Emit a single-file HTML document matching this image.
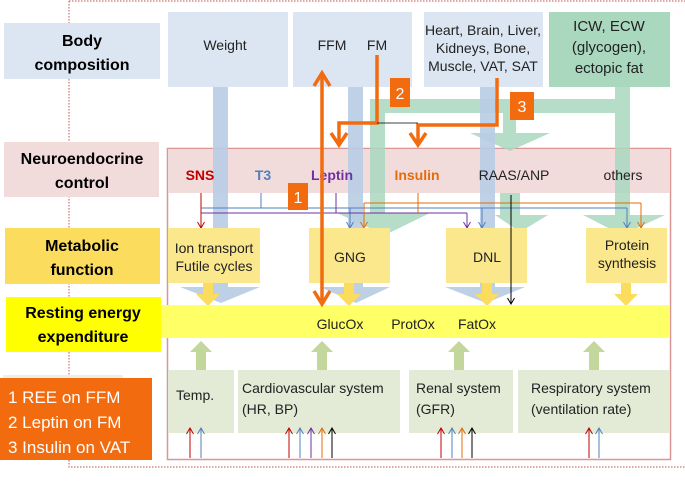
<!DOCTYPE html><html><head><style>body{margin:0;width:685px;height:478px;overflow:hidden;background:#fff}svg text{font-family:"Liberation Sans",sans-serif}</style></head><body>
<svg width="685" height="478" viewBox="0 0 685 478" xmlns="http://www.w3.org/2000/svg">
<defs>
<marker id="ar" markerWidth="8" markerHeight="8" refX="7" refY="4" orient="auto" markerUnits="userSpaceOnUse"><path d="M1,0.5 L7,4 L1,7.5" fill="none" stroke="#c00000" stroke-width="1"/></marker>
<marker id="ab" markerWidth="8" markerHeight="8" refX="7" refY="4" orient="auto" markerUnits="userSpaceOnUse"><path d="M1,0.5 L7,4 L1,7.5" fill="none" stroke="#4f81bd" stroke-width="1"/></marker>
<marker id="ap" markerWidth="8" markerHeight="8" refX="7" refY="4" orient="auto" markerUnits="userSpaceOnUse"><path d="M1,0.5 L7,4 L1,7.5" fill="none" stroke="#7030a0" stroke-width="1"/></marker>
<marker id="ao" markerWidth="8" markerHeight="8" refX="7" refY="4" orient="auto" markerUnits="userSpaceOnUse"><path d="M1,0.5 L7,4 L1,7.5" fill="none" stroke="#e46c0a" stroke-width="1"/></marker>
<marker id="ak" markerWidth="8" markerHeight="8" refX="7" refY="4" orient="auto" markerUnits="userSpaceOnUse"><path d="M1,0.5 L7,4 L1,7.5" fill="none" stroke="#000" stroke-width="1"/></marker>
</defs>
<path d="M69,1 H685 M69,1 V467 H685" fill="none" stroke="#c0504d" stroke-width="1" stroke-dasharray="1.5,1.5"/>
<rect x="4" y="23" width="156" height="56" fill="#dce6f2"/>
<text x="82" y="46" font-size="16" font-weight="bold" text-anchor="middle">Body</text>
<text x="82" y="70" font-size="16" font-weight="bold" text-anchor="middle">composition</text>
<rect x="4" y="142" width="155" height="55" fill="#f2dcdb"/>
<text x="82" y="164" font-size="16" font-weight="bold" text-anchor="middle">Neuroendocrine</text>
<text x="82" y="188" font-size="16" font-weight="bold" text-anchor="middle">control</text>
<rect x="5" y="228" width="155" height="56" fill="#fcdc5c"/>
<text x="82" y="251" font-size="16" font-weight="bold" text-anchor="middle">Metabolic</text>
<text x="82" y="275" font-size="16" font-weight="bold" text-anchor="middle">function</text>
<rect x="3" y="375" width="120" height="57" fill="#ebf1de"/>
<rect x="167.5" y="148.5" width="503" height="311" fill="#fff" stroke="#d99694" stroke-width="1.5"/>
<rect x="168" y="149" width="502" height="44" fill="#f2dcdb"/>
<rect x="168" y="12" width="120" height="75" fill="#dce6f2"/>
<rect x="293" y="12" width="119" height="75" fill="#dce6f2"/>
<rect x="424" y="12" width="119" height="75" fill="#dce6f2"/>
<rect x="549" y="12" width="121" height="75" fill="#a9d8bf"/>
<g fill="#a9d8bf" opacity="0.85">
<rect x="615" y="87" width="15" height="128"/>
<rect x="370" y="99" width="260" height="14"/>
<rect x="370" y="99" width="15" height="116"/>
<rect x="503" y="113" width="13" height="20"/>
<polygon points="470,133 550,133 510,151"/>
<rect x="500" y="193" width="20" height="22"/>
<polygon points="337,213 430,213 385,235"/>
<polygon points="495,215 548,215 520,232"/>
<polygon points="583,215 665,215 622,235"/>
</g>
<g fill="#b8cce4" opacity="0.9">
<rect x="213" y="87" width="15" height="200"/>
<polygon points="180,287 260,287 221,303"/>
<rect x="348" y="87" width="15" height="200"/>
<polygon points="320,287 390,287 356,303"/>
<rect x="480" y="87" width="15" height="200"/>
<polygon points="445,287 525,287 486,303"/>
</g>
<g font-size="14" text-anchor="middle">
<text x="200" y="180" fill="#c00000" font-weight="bold">SNS</text>
<text x="263" y="180" fill="#4f81bd" font-weight="bold">T3</text>
<text x="332" y="180" fill="#7030a0" font-weight="bold">Leptin</text>
<text x="417" y="180" fill="#e46c0a" font-weight="bold">Insulin</text>
<text x="514" y="180" fill="#222">RAAS/ANP</text>
<text x="623" y="180" fill="#222">others</text>
</g>
<g fill="none" stroke-width="1">
<path d="M201,193 V228" stroke="#c00000" marker-end="url(#ar)"/>
<path d="M261,193 V208 M201,208 H627" stroke="#4f81bd"/>
<path d="M350,208 V228" stroke="#4f81bd" marker-end="url(#ab)"/>
<path d="M482,208 V228" stroke="#4f81bd" marker-end="url(#ab)"/>
<path d="M627,208 V228" stroke="#4f81bd" marker-end="url(#ab)"/>
<path d="M336,193 V213 M201,213 H467" stroke="#7030a0"/>
<path d="M467,213 V228" stroke="#7030a0" marker-end="url(#ap)"/>
<path d="M418,193 V213 M364,203 H641" stroke="#e46c0a"/>
<path d="M364,203 V228" stroke="#e46c0a" marker-end="url(#ao)"/>
<path d="M641,203 V228" stroke="#e46c0a" marker-end="url(#ao)"/>
</g>
<g fill="#fce88c">
<rect x="168" y="228" width="92" height="55"/>
<rect x="309" y="228" width="81" height="55"/>
<rect x="446" y="228" width="81" height="55"/>
<rect x="586" y="228" width="81" height="55"/>
</g>
<path d="M511,195 V304" stroke="#000" stroke-width="1" fill="none" marker-end="url(#ak)"/>
<g font-size="14" text-anchor="middle" fill="#222">
<text x="214" y="253">Ion transport</text>
<text x="214" y="271">Futile cycles</text>
<text x="350" y="262">GNG</text>
<text x="487" y="262">DNL</text>
<text x="627" y="250">Protein</text>
<text x="627" y="268">synthesis</text>
</g>
<g fill="#fcdc5c">
<rect x="203" y="283" width="10" height="12"/><polygon points="196,294 220,294 208,306"/>
<rect x="344" y="283" width="10" height="12"/><polygon points="337,294 361,294 349,306"/>
<rect x="482" y="283" width="10" height="12"/><polygon points="475,294 499,294 487,306"/>
<rect x="621" y="283" width="10" height="12"/><polygon points="614,294 638,294 626,306"/>
</g>
<rect x="161" y="305" width="509" height="33" fill="#ffff66"/>
<rect x="6" y="297" width="155" height="55" fill="#ffff00"/>
<text x="83" y="318" font-size="16" font-weight="bold" text-anchor="middle">Resting energy</text>
<text x="83" y="342" font-size="16" font-weight="bold" text-anchor="middle">expenditure</text>
<g font-size="14" text-anchor="middle" fill="#222">
<text x="340" y="329">GlucOx</text><text x="413" y="329">ProtOx</text><text x="477" y="329">FatOx</text>
</g>
<g fill="#c3d69b">
<polygon points="190,352 212,352 201,341"/><rect x="196" y="352" width="10" height="18"/>
<polygon points="311,352 333,352 322,341"/><rect x="317" y="352" width="10" height="18"/>
<polygon points="448,352 470,352 459,341"/><rect x="454" y="352" width="10" height="18"/>
<polygon points="583,352 605,352 594,341"/><rect x="589" y="352" width="10" height="18"/>
</g>
<g fill="#e3ead6">
<rect x="168" y="370" width="66" height="63"/>
<rect x="238" y="370" width="162" height="63"/>
<rect x="409" y="370" width="104" height="63"/>
<rect x="518" y="370" width="152" height="63"/>
</g>
<g font-size="14" fill="#222">
<text x="176" y="400">Temp.</text>
<text x="242" y="393">Cardiovascular system</text><text x="242" y="414">(HR, BP)</text>
<text x="416" y="393">Renal system</text><text x="416" y="414">(GFR)</text>
<text x="531" y="393">Respiratory system</text><text x="531" y="414">(ventilation rate)</text>
</g>
<g fill="none" stroke-width="1">
<path d="M190,458 V428" stroke="#c00000" marker-end="url(#ar)"/>
<path d="M289,458 V428" stroke="#c00000" marker-end="url(#ar)"/>
<path d="M441,458 V428" stroke="#c00000" marker-end="url(#ar)"/>
<path d="M589,458 V428" stroke="#c00000" marker-end="url(#ar)"/>
<path d="M201,458 V428" stroke="#4f81bd" marker-end="url(#ab)"/>
<path d="M300,458 V428" stroke="#4f81bd" marker-end="url(#ab)"/>
<path d="M452,458 V428" stroke="#4f81bd" marker-end="url(#ab)"/>
<path d="M599,458 V428" stroke="#4f81bd" marker-end="url(#ab)"/>
<path d="M311,458 V428" stroke="#7030a0" marker-end="url(#ap)"/>
<path d="M322,458 V428" stroke="#e46c0a" marker-end="url(#ao)"/>
<path d="M462,458 V428" stroke="#e46c0a" marker-end="url(#ao)"/>
<path d="M332,458 V428" stroke="#000" marker-end="url(#ak)"/>
<path d="M472,458 V428" stroke="#000" marker-end="url(#ak)"/>
</g>
<g font-size="14" text-anchor="middle" fill="#222">
<text x="225" y="50">Weight</text>
<text x="332" y="50">FFM</text><text x="377" y="50">FM</text>
<text x="483" y="35">Heart, Brain, Liver,</text>
<text x="483" y="53">Kidneys, Bone,</text>
<text x="483" y="71">Muscle, VAT, SAT</text>
<text x="609" y="31" font-size="15">ICW, ECW</text>
<text x="609" y="52" font-size="15">(glycogen),</text>
<text x="609" y="73" font-size="15">ectopic fat</text>
</g>
<g fill="none" stroke="#f26b0f" stroke-width="3.5" stroke-linejoin="miter">
<path d="M322,75 V302"/>
<path d="M314,86 L322,73 L330,86"/><path d="M314,291 L322,304 L330,291"/>
<path d="M377,55 V123 H339 V143"/><path d="M331,133 L339,145 L347,133"/>
<path d="M497,78 V125 H418 V143"/><path d="M410,133 L418,145 L426,133"/>
</g>
<path d="M377,123 H418" stroke="#000" stroke-width="0.8"/>
<g fill="#f26b0f">
<rect x="288" y="183" width="20" height="27"/>
<rect x="390" y="78" width="20" height="29"/>
<rect x="510" y="92" width="24" height="28"/>
<rect x="0" y="378" width="152" height="82"/>
</g>
<g fill="#fff" font-size="16" text-anchor="middle">
<text x="298" y="203">1</text><text x="400" y="99">2</text><text x="522" y="112">3</text>
</g>
<g fill="#fff" font-size="17">
<text x="8" y="403">1 REE on FFM</text>
<text x="8" y="428">2 Leptin on FM</text>
<text x="8" y="453">3 Insulin  on VAT</text>
</g>
</svg>
</body></html>
